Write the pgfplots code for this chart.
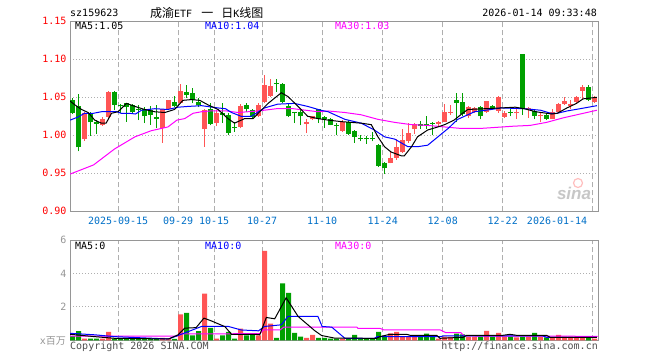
\documentclass[border=0pt]{standalone}
\usepackage{fontspec}
\setmainfont{DejaVu Sans Mono}
\newfontfamily\cjk{Noto Sans CJK SC}
\newfontfamily\lsans{Liberation Sans}
\usepackage{pgfplots}
\usepackage{pgfplotstable}
\pgfplotsset{compat=1.18}
\definecolor{cred}{RGB}{255,85,85}
\definecolor{cgreen}{RGB}{0,160,0}
\definecolor{ctick}{RGB}{255,0,0}
\definecolor{cblue}{RGB}{0,112,200}
\definecolor{cgrid}{RGB}{175,175,175}
\definecolor{cframe}{RGB}{150,150,150}
\definecolor{cmag}{RGB}{255,0,255}
\definecolor{cma10}{RGB}{0,0,255}
\definecolor{ctext}{RGB}{80,80,80}

\pgfplotstableread{
i o h l c v
2 0.995 1.031 0.993 1.030 0.10
5 1.0135 1.024 1.012 1.022 0.10
6 1.0245 1.058 1.023 1.057 0.50
15 1.009 1.035 0.990 1.034 0.15
16 1.034 1.047 1.033 1.046 0.10
18 1.042 1.068 1.041 1.058 1.55
22 1.008 1.035 0.985 1.033 2.80
24 1.016 1.033 1.012 1.029 0.10
28 1.011 1.041 1.009 1.038 0.70
31 1.025 1.042 1.024 1.040 0.30
32 1.044 1.079 1.042 1.066 5.37
33 1.052 1.074 1.051 1.065 1.00
39 1.015 1.021 1.003 1.018 0.15
40 1.021 1.026 1.020 1.025 0.33
45 1.006 1.020 1.005 1.018 0.10
53 0.964 0.978 0.963 0.970 0.42
54 0.970 0.995 0.968 0.985 0.50
55 0.978 1.008 0.977 0.994 0.25
56 0.992 1.016 0.990 1.003 0.20
57 1.008 1.016 1.002 1.015 0.20
61 1.015 1.019 1.012 1.018 0.10
62 1.018 1.041 1.018 1.031 0.22
63 1.0295 1.040 1.027 1.031 0.20
66 1.025 1.038 1.023 1.037 0.22
67 1.031 1.037 1.030 1.036 0.22
69 1.031 1.045 1.030 1.045 0.56
71 1.032 1.052 1.030 1.051 0.45
72 1.024 1.032 1.023 1.030 0.22
74 1.029 1.034 1.022 1.0305 0.18
76 1.034 1.037 1.023 1.0355 0.22
78 1.025 1.029 1.018 1.027 0.22
80 1.022 1.034 1.021 1.031 0.18
81 1.031 1.042 1.029 1.041 0.32
82 1.041 1.051 1.040 1.045 0.22
83 1.038 1.046 1.034 1.041 0.22
84 1.044 1.052 1.043 1.051 0.22
85 1.058 1.066 1.047 1.063 0.22
87 1.044 1.052 1.043 1.049 0.10
}\upK

\pgfplotstableread{
i o h l c v
0 1.047 1.049 1.028 1.030 0.25
1 1.038 1.055 0.979 0.984 0.55
3 1.030 1.031 0.999 1.017 0.10
4 1.018 1.020 1.002 1.015 0.10
7 1.057 1.058 1.033 1.040 0.10
8 1.0405 1.041 1.029 1.039 0.08
9 1.042 1.043 1.018 1.037 0.10
10 1.040 1.041 1.030 1.031 0.08
11 1.035 1.040 1.020 1.0335 0.08
12 1.034 1.037 1.016 1.025 0.10
13 1.033 1.038 1.014 1.027 0.08
14 1.024 1.040 1.009 1.022 0.10
17 1.044 1.052 1.037 1.038 0.08
19 1.057 1.066 1.049 1.053 1.65
20 1.056 1.062 1.042 1.046 0.30
21 1.044 1.049 1.037 1.040 0.55
23 1.034 1.043 1.013 1.015 0.75
25 1.029 1.042 1.016 1.027 0.30
26 1.027 1.029 1.000 1.0035 0.50
27 1.0115 1.018 1.005 1.010 0.10
29 1.040 1.042 1.031 1.035 0.30
30 1.033 1.034 1.022 1.024 0.35
34 1.069 1.074 1.057 1.0675 0.15
35 1.068 1.069 1.042 1.044 3.41
36 1.038 1.042 1.024 1.025 2.85
37 1.0305 1.031 1.016 1.029 0.45
38 1.031 1.033 1.013 1.025 0.22
41 1.034 1.035 1.016 1.022 0.15
42 1.024 1.025 1.010 1.021 0.15
43 1.022 1.023 1.013 1.014 0.10
44 1.0135 1.016 1.000 1.012 0.10
46 1.018 1.020 1.001 1.002 0.10
47 1.006 1.007 0.990 0.998 0.33
48 0.996 1.001 0.992 0.9945 0.10
49 0.996 0.999 0.989 0.9945 0.10
50 0.996 1.005 0.992 0.9945 0.10
51 0.987 0.988 0.958 0.960 0.50
52 0.964 0.965 0.949 0.957 0.22
58 1.015 1.019 1.008 1.012 0.22
59 1.0155 1.025 1.008 1.014 0.40
60 1.0165 1.017 1.000 1.015 0.22
64 1.046 1.056 1.017 1.043 0.40
65 1.044 1.056 1.026 1.028 0.35
68 1.037 1.038 1.021 1.025 0.22
70 1.038 1.040 1.034 1.035 0.22
73 1.031 1.034 1.025 1.0295 0.22
75 1.107 1.107 1.027 1.036 0.22
77 1.032 1.035 1.021 1.026 0.45
79 1.027 1.029 1.020 1.022 0.18
86 1.063 1.066 1.045 1.047 0.22
}\dnK

\pgfplotsset{
  every tick label/.append style={font=\fontsize{10}{12}\selectfont},
  common/.style={
    scale only axis, width=528pt,
    xmin=-0.42, xmax=87.58,
    axis line style={draw=cframe, line width=1pt},
    major tick length=0pt,
    xmajorgrids, ymajorgrids,
    x grid style={draw=cgrid, dash pattern=on 5pt off 3pt, line width=1pt},
    y grid style={draw=cgrid, dash pattern=on 1pt off 2pt, line width=1pt},
    /pgf/number format/assume math mode=true,
  },
  wick/.style={draw=none, mark=none, error bars/.cd, y dir=plus, y explicit, error mark=none,
    error bar style={line width=1pt, draw=#1}},
  body/.style={draw=none, mark=none, error bars/.cd, y dir=plus, y explicit, error mark=none,
    error bar style={line width=5pt, draw=#1}},
}

\begin{document}
\begin{tikzpicture}[x=1pt,y=1pt]
\useasboundingbox (0,0) rectangle (660,-360);
\fill[white] (0,0) rectangle (660,-360);

% ---------- price axis ----------
\begin{axis}[common,
  at={(70pt,-21.3pt)}, anchor=north west, height=190pt,
  ymin=0.90, ymax=1.15,
  ytick={0.9,0.95,1,1.05,1.1,1.15},
  xtick={7.6,17.6,23.6,31.6,41.6,51.7,61.7,71.7},
  xticklabels={2025-09-15,09-29,10-15,10-27,11-10,11-24,12-08,12-22},
  extra x ticks={86.7}, extra x tick labels={2026-01-14},
  extra x tick style={grid=major, xticklabel style={anchor=north east, xshift=-2pt}},
  xticklabel style={text=cblue, yshift=-2pt},
  yticklabel style={text=ctick, /pgf/number format/.cd, fixed, fixed zerofill, precision=2},
]
\addplot[wick=cred] table[x=i, y=l, y error plus expr={\thisrow{h}-\thisrow{l}}]{\upK};
\addplot[body=cred] table[x=i, y=o, y error plus expr={\thisrow{c}-\thisrow{o}}]{\upK};
\addplot[wick=cgreen] table[x=i, y=l, y error plus expr={\thisrow{h}-\thisrow{l}}]{\dnK};
\addplot[body=cgreen] table[x=i, y=c, y error plus expr={\thisrow{o}-\thisrow{c}}]{\dnK};
% MA30
\addplot[cmag, line width=1pt] coordinates {
(-0.4,0.949) (3.5,0.961) (7,0.982) (10.4,0.998) (13.1,1.006) (15.9,1.011) (17.4,1.020)
(18.7,1.022) (20.1,1.029) (21.5,1.031) (22.9,1.032) (25.7,1.032) (27.6,1.030) (30.9,1.032)
(34,1.035) (36.8,1.035) (40.9,1.031) (42.6,1.032) (45.4,1.030) (48.1,1.027) (50.9,1.021)
(53.7,1.017) (56.5,1.014) (59.2,1.013) (62,1.011) (64.8,1.009) (67.9,1.009) (69.8,1.010)
(73.5,1.012) (76.25,1.013) (79,1.017) (81.8,1.023) (84.6,1.028) (87.4,1.033)};
% MA10
\addplot[cma10, line width=1pt] coordinates {
(-0.4,1.020) (0.9,1.024) (2,1.029) (3.5,1.029) (4.8,1.031) (7.4,1.031) (8.1,1.029)
(9.5,1.029) (10.5,1.028) (11.5,1.033) (13.7,1.035) (15.9,1.034) (17.6,1.037) (19.25,1.038)
(21.5,1.039) (24.25,1.036) (25.5,1.035) (26.5,1.030) (28.1,1.025) (29.8,1.025) (32,1.036)
(34.2,1.041) (37,1.042) (39.2,1.038) (41.4,1.033) (42.6,1.031) (45.4,1.021) (48.1,1.016)
(50.3,1.007) (52,0.998) (53.7,0.995) (55.9,0.985) (57.5,0.985) (59.2,0.987) (60.9,0.998)
(62.6,1.009) (64.2,1.021) (67,1.031) (69.8,1.034) (71.4,1.036) (75.3,1.035) (78,1.033)
(79.7,1.029) (80.8,1.029) (82.4,1.032) (84.6,1.035) (87.4,1.039)};
% MA5
\addplot[black, line width=1pt] coordinates {
(-0.4,1.045) (0.4,1.040) (1.5,1.034) (2.6,1.030) (3.7,1.020) (4.8,1.016) (5.6,1.016)
(6.5,1.029) (7.6,1.031) (9,1.042) (10.4,1.038) (12,1.034) (13.7,1.031) (15.4,1.030)
(17,1.034) (18.4,1.046) (19.8,1.047) (21.2,1.046) (22.6,1.040) (24.25,1.034) (25.9,1.022)
(27,1.016) (28.7,1.022) (30.1,1.022) (31.2,1.031) (32.6,1.042) (34.8,1.056) (35.9,1.051)
(37.6,1.038) (39.2,1.025) (40.9,1.022) (42.6,1.020) (44.8,1.018) (48.1,1.016) (49.8,1.014)
(50.9,0.998) (52,0.985) (53.1,0.978) (54.8,0.973) (55.3,0.973) (56.5,0.985) (57.5,0.998)
(59.2,1.007) (60.9,1.011) (62,1.014) (63.6,1.020) (65,1.029) (65.9,1.034) (68.7,1.035)
(71.4,1.036) (73.8,1.037) (75.3,1.035) (77.2,1.031) (79.9,1.028) (80.8,1.029) (82.4,1.036)
(84,1.042) (85.1,1.048) (87.4,1.050)};
\end{axis}

% ---------- volume axis ----------
\begin{axis}[common,
  at={(70pt,-240.3pt)}, anchor=north west, height=100pt,
  ymin=0, ymax=6, ytick={2,4,6},
  xtick={7.6,17.6,23.6,31.6,41.6,51.7,61.7,71.7,86.7},
  xticklabels={,,,,,,,,},
  yticklabel style={text=cframe},
]
\addplot[ybar, bar width=5pt, bar shift=0pt, fill=cred, draw=none] table[x=i, y=v]{\upK};
\addplot[ybar, bar width=5pt, bar shift=0pt, fill=cgreen, draw=none] table[x=i, y=v]{\dnK};
\addplot[cmag, line width=1pt] coordinates {
(-0.4,0.25) (17.4,0.25) (18,0.38) (31.2,0.40) (31.8,0.62) (34.6,0.62) (35.2,0.79)
(47.4,0.79) (47.6,0.71) (51.3,0.71) (51.9,0.62) (61.3,0.62) (62.2,0.46) (64.7,0.46)
(65.3,0.26) (87.5,0.24)};
\addplot[cma10, line width=1pt] coordinates {
(-0.4,0.42) (3.7,0.33) (7,0.22) (16,0.08) (17.6,0.29) (21.5,0.83) (26,0.83) (28.1,0.62)
(31,0.57) (32,0.83) (34.8,0.93) (35.9,1.43) (40.9,1.43) (41.6,0.83) (43.2,0.79) (45.4,0.12)
(50.3,0.12) (50.8,0.22) (61.3,0.22) (61.8,0.26) (78.4,0.26) (79,0.18) (87.4,0.18)};
\addplot[black, line width=1pt] coordinates {
(-0.4,0.36) (3.7,0.22) (7,0.12) (16,0.08) (17.6,0.33) (18.7,0.73) (20.6,0.76) (21.9,1.33)
(23.1,1.17) (25.4,0.82) (26.5,0.36) (30.4,0.36) (31.2,0.33) (32.3,1.37) (33.7,1.29)
(35.6,2.55) (37.6,1.43) (40.4,0.57) (41.5,0.29) (43.7,0.13) (50.7,0.12) (51.25,0.22)
(52.9,0.36) (55.7,0.36) (56.25,0.30) (60.7,0.30) (61.25,0.12) (65.1,0.18) (65.7,0.30)
(71.75,0.30) (72.9,0.36) (74,0.30) (79,0.30) (79.6,0.18) (87.4,0.18)};
\end{axis}

% ---------- texts ----------
\node[anchor=base west, inner sep=0] at (70,-16.5) {sz159623};
\node[anchor=base west, inner sep=0] at (150,-17) {{\cjk\fontsize{12}{12}\selectfont 成渝}ETF\hspace{9pt}{\cjk\fontsize{12}{12}\selectfont 一}\hspace{8pt}{\cjk\fontsize{12}{12}\selectfont 日}K{\cjk\fontsize{12}{12}\selectfont 线图}};
\node[anchor=base east, inner sep=0] at (597,-16.5) {2026-01-14 09:33:48};

\node[anchor=base west, inner sep=0] at (75,-29.5) {MA5:1.05};
\node[anchor=base west, inner sep=0, text=cma10] at (205,-29.5) {MA10:1.04};
\node[anchor=base west, inner sep=0, text=cmag] at (335,-29.5) {MA30:1.03};

\node[anchor=base west, inner sep=0] at (75,-249.5) {MA5:0};
\node[anchor=base west, inner sep=0, text=cma10] at (205,-249.5) {MA10:0};
\node[anchor=base west, inner sep=0, text=cmag] at (335,-249.5) {MA30:0};

\node[anchor=base east, inner sep=0, text=cframe] at (66,-344.5) {x{\cjk 百万}};
\node[anchor=base west, inner sep=0, text=ctext] at (70,-349.5) {Copyright 2026 SINA.COM};
\node[anchor=base east, inner sep=0, text=ctext] at (598,-349.5) {http://finance.sina.com.cn};

% sina watermark
\draw[red!25, line width=1.2pt] (578,-183) circle (4.5);
\node[anchor=base, inner sep=0, text=black!22, font=\lsans\bfseries\itshape\fontsize{17}{17}\selectfont] at (574,-199) {sina};
\end{tikzpicture}
\end{document}
